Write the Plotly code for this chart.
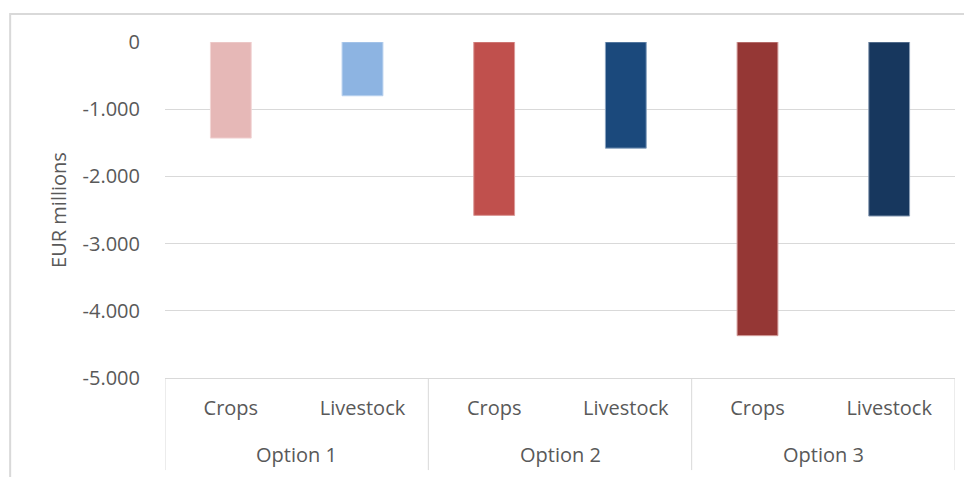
import plotly.graph_objects as go

# chart data
options = ["Option 1", "Option 1", "Option 2", "Option 2", "Option 3", "Option 3"]
sectors = ["Crops", "Livestock", "Crops", "Livestock", "Crops", "Livestock"]
impact = [-1430, -800, -2580, -1580, -4370, -2590]
bar_colors = ["#E6B8B7", "#8DB4E2", "#C0504D", "#1B497C", "#953735", "#17375E"]
edge_colors = ["#F2D6D5", "#B7D0EE", "#DC9A98", "#8AA3C0", "#D49E9C", "#8A9DB5"]

ytick_vals = [0, -1000, -2000, -3000, -4000, -5000]
ytick_text = ["0", "-1.000", "-2.000", "-3.000", "-4.000", "-5.000"]

grey_text = "#595959"
grid_grey = "#D9D9D9"
font_family = "'Open Sans', Lato, sans-serif"
fsize = 20

# one unique category per bar, labelled with the sector name
x_keys = [f"{o}|{s}" for o, s in zip(options, sectors)]
group_names = list(dict.fromkeys(options))

fig = go.Figure()
fig.add_trace(go.Bar(
    x=x_keys,
    y=impact,
    marker=dict(color=bar_colors, line=dict(color=edge_colors, width=1)),
    showlegend=False,
))

# page has an 8px body margin, so the figure is a bit smaller than the window
fig.update_layout(
    width=964,
    height=469,
    margin=dict(l=157, r=17, t=34, b=99),
    paper_bgcolor="white",
    plot_bgcolor="white",
    bargap=0.69,
    font=dict(family=font_family, size=fsize, color=grey_text),
    xaxis=dict(
        type="category",
        categoryorder="array",
        categoryarray=x_keys,
        tickvals=x_keys,
        ticktext=sectors,
        range=[-0.5, len(x_keys) - 0.5],
        showline=True,
        linecolor=grid_grey,
        linewidth=1,
        showgrid=False,
        ticks="",
        ticklabelstandoff=12,
        tickfont=dict(family=font_family, size=fsize, color=grey_text),
    ),
    yaxis=dict(
        range=[-5000, 0],
        tickvals=ytick_vals,
        ticktext=ytick_text,
        showgrid=True,
        gridcolor=grid_grey,
        gridwidth=1,
        zeroline=False,
        showline=False,
        ticks="",
        ticklabelstandoff=24,
        tickfont=dict(family=font_family, size=fsize, color=grey_text),
        title=dict(text="EUR millions", standoff=10,
                   font=dict(family=font_family, size=fsize, color=grey_text)),
    ),
)

# second level of the category axis: option names and group dividers
for i, name in enumerate(group_names):
    members = [k for k, o in zip(x_keys, options) if o == name]
    first = x_keys.index(members[0])
    last = x_keys.index(members[-1])
    fig.add_annotation(x=(first + last) / 2, y=-0.229, xref="x", yref="paper",
                       text=name, showarrow=False, yanchor="middle",
                       font=dict(family=font_family, size=fsize, color=grey_text))
    for edge in ([first - 0.5] if i == 0 else []) + [last + 0.5]:
        fig.add_shape(type="line", xref="x", yref="paper",
                      x0=edge, x1=edge, y0=0, y1=-0.274,
                      line=dict(color=grid_grey, width=1))

# chart area border (top and left edge visible in the crop)
fig.add_shape(type="rect", xref="paper", yref="paper",
              x0=-0.196, x1=1.1, y0=-0.4, y1=1.083,
              line=dict(color=grid_grey, width=2), fillcolor="rgba(0,0,0,0)",
              layer="below")

fig.write_html("out.html")
